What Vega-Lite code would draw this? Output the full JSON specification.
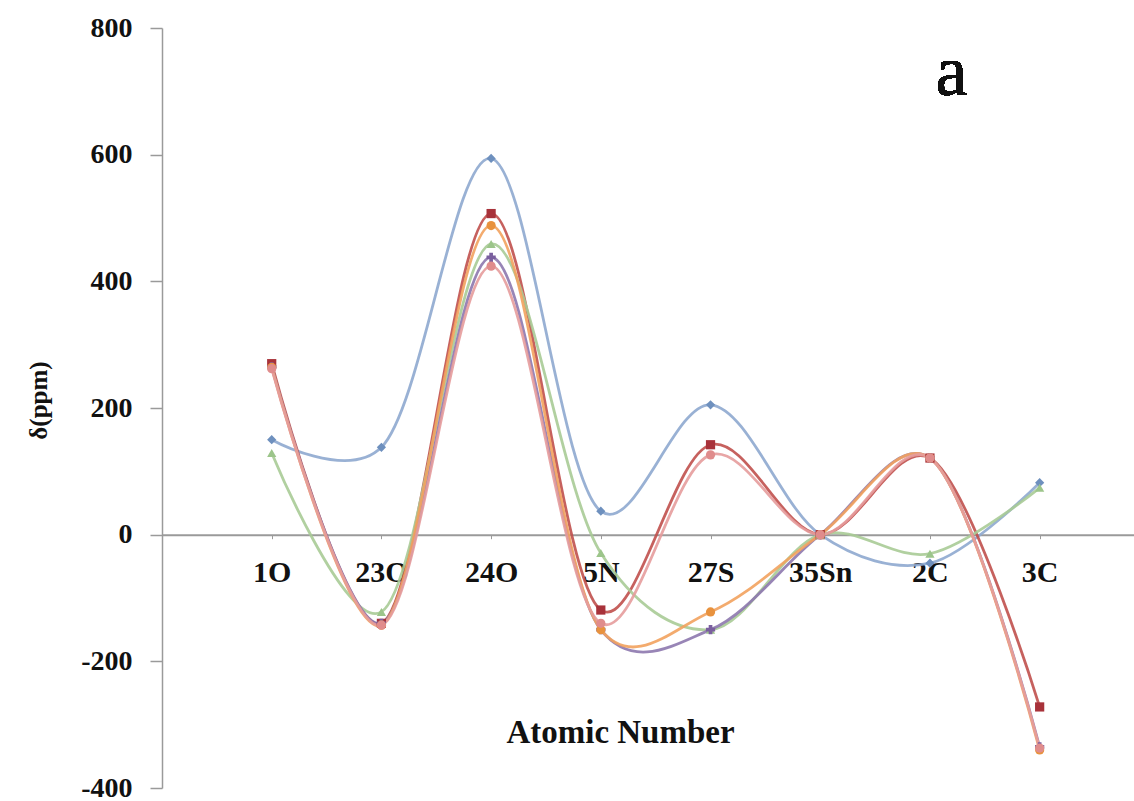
{
  "$schema": "https://vega.github.io/schema/vega-lite/v6.json",
  "width": 972,
  "height": 760,
  "autosize": {"type": "none"},
  "padding": {"left": 162, "top": 28, "right": 0, "bottom": 13},
  "background": "white",
  "config": {"view": {"stroke": null}, "font": "Liberation Serif"},
  "data": {
    "values": [
      {"s": "A", "i": 1, "atom": "1O", "v": 150},
      {"s": "A", "i": 2, "atom": "23O", "v": 138},
      {"s": "A", "i": 3, "atom": "24O", "v": 594},
      {"s": "A", "i": 4, "atom": "5N", "v": 37},
      {"s": "A", "i": 5, "atom": "27S", "v": 205},
      {"s": "A", "i": 6, "atom": "35Sn", "v": 0},
      {"s": "A", "i": 7, "atom": "2C", "v": -45},
      {"s": "A", "i": 8, "atom": "3C", "v": 82},
      {"s": "B", "i": 1, "atom": "1O", "v": 270},
      {"s": "B", "i": 2, "atom": "23O", "v": -140},
      {"s": "B", "i": 3, "atom": "24O", "v": 507},
      {"s": "B", "i": 4, "atom": "5N", "v": -119},
      {"s": "B", "i": 5, "atom": "27S", "v": 142},
      {"s": "B", "i": 6, "atom": "35Sn", "v": 0},
      {"s": "B", "i": 7, "atom": "2C", "v": 121},
      {"s": "B", "i": 8, "atom": "3C", "v": -272},
      {"s": "C", "i": 1, "atom": "1O", "v": 129},
      {"s": "C", "i": 2, "atom": "23O", "v": -122},
      {"s": "C", "i": 3, "atom": "24O", "v": 459},
      {"s": "C", "i": 4, "atom": "5N", "v": -29},
      {"s": "C", "i": 5, "atom": "27S", "v": -150},
      {"s": "C", "i": 6, "atom": "35Sn", "v": 0},
      {"s": "C", "i": 7, "atom": "2C", "v": -30},
      {"s": "C", "i": 8, "atom": "3C", "v": 74},
      {"s": "D", "i": 1, "atom": "1O", "v": 265},
      {"s": "D", "i": 2, "atom": "23O", "v": -140},
      {"s": "D", "i": 3, "atom": "24O", "v": 438},
      {"s": "D", "i": 4, "atom": "5N", "v": -150},
      {"s": "D", "i": 5, "atom": "27S", "v": -150},
      {"s": "D", "i": 6, "atom": "35Sn", "v": 0},
      {"s": "D", "i": 7, "atom": "2C", "v": 121},
      {"s": "D", "i": 8, "atom": "3C", "v": -335},
      {"s": "E", "i": 1, "atom": "1O", "v": 264},
      {"s": "E", "i": 2, "atom": "23O", "v": -143},
      {"s": "E", "i": 3, "atom": "24O", "v": 488},
      {"s": "E", "i": 4, "atom": "5N", "v": -150},
      {"s": "E", "i": 5, "atom": "27S", "v": -122},
      {"s": "E", "i": 6, "atom": "35Sn", "v": 0},
      {"s": "E", "i": 7, "atom": "2C", "v": 121},
      {"s": "E", "i": 8, "atom": "3C", "v": -340},
      {"s": "F", "i": 1, "atom": "1O", "v": 262},
      {"s": "F", "i": 2, "atom": "23O", "v": -143},
      {"s": "F", "i": 3, "atom": "24O", "v": 424},
      {"s": "F", "i": 4, "atom": "5N", "v": -140},
      {"s": "F", "i": 5, "atom": "27S", "v": 126},
      {"s": "F", "i": 6, "atom": "35Sn", "v": 0},
      {"s": "F", "i": 7, "atom": "2C", "v": 121},
      {"s": "F", "i": 8, "atom": "3C", "v": -337}
    ]
  },
  "encoding": {
    "x": {
      "field": "i",
      "type": "quantitative",
      "scale": {"domain": [0, 8.86], "nice": false, "zero": false},
      "axis": {
        "values": [1, 2, 3, 4, 5, 6, 7, 8],
        "labelExpr": "['', '1O', '23O', '24O', '5N', '27S', '35Sn', '2C', '3C'][datum.value]",
        "offset": -253.3,
        "grid": false,
        "domainColor": "#9a9a9a",
        "domainWidth": 2,
        "tickColor": "#9a9a9a",
        "tickSize": 4,
        "tickWidth": 1,
        "labelFont": "Liberation Serif",
        "labelFontSize": 30,
        "labelFontWeight": "bold",
        "labelColor": "#111111",
        "labelPadding": 19,
        "labelFlush": false,
        "labelOverlap": false,
        "labelBound": false,
        "title": "Atomic Number",
        "titleFont": "Liberation Serif",
        "titleFontSize": 33,
        "titleFontWeight": "bold",
        "titleColor": "#111111",
        "titleX": 458,
        "titleY": 208,
        "titleAlign": "center",
        "titleBaseline": "alphabetic"
      }
    },
    "y": {
      "field": "v",
      "type": "quantitative",
      "scale": {"domain": [-400, 800], "nice": false},
      "axis": {
        "values": [-400, -200, 0, 200, 400, 600, 800],
        "labelExpr": "'' + datum.value",
        "grid": false,
        "domainColor": "#9a9a9a",
        "domainWidth": 1.5,
        "tickColor": "#9a9a9a",
        "tickSize": 12,
        "tickWidth": 1.5,
        "labelFont": "Liberation Serif",
        "labelFontSize": 28,
        "labelFontWeight": "bold",
        "labelColor": "#111111",
        "labelPadding": 18,
        "labelOverlap": false,
        "labelBound": false,
        "title": "δ(ppm)",
        "titleFont": "Liberation Serif",
        "titleFontSize": 25,
        "titleFontWeight": "bold",
        "titleColor": "#111111",
        "titleAngle": -90,
        "titleX": -116,
        "titleY": 372,
        "titleAlign": "center",
        "titleBaseline": "alphabetic"
      }
    }
  },
  "layer": [
    {
      "mark": {"type": "line", "interpolate": "catmull-rom", "tension": 0.2, "strokeWidth": 2.8, "opacity": 0.9},
      "encoding": {
        "stroke": {
          "field": "s",
          "type": "nominal",
          "scale": {"domain": ["A", "B", "C", "D", "E", "F"], "range": ["#8EA9CF", "#C0504D", "#A8CB96", "#8D78AE", "#F2A25E", "#E59C9C"]},
          "legend": null
        }
      }
    },
    {
      "mark": {"type": "point", "filled": true, "size": 85, "opacity": 1},
      "encoding": {
        "fill": {
          "field": "s",
          "type": "nominal",
          "scale": {"domain": ["A", "B", "C", "D", "E", "F"], "range": ["#6E90BE", "#A8323A", "#9CC58A", "#7A5F9E", "#E8923E", "#E08C8C"]},
          "legend": null
        },
        "shape": {
          "field": "s",
          "type": "nominal",
          "scale": {"domain": ["A", "B", "C", "D", "E", "F"], "range": ["diamond", "square", "triangle-up", "cross", "circle", "circle"]},
          "legend": null
        }
      }
    },
    {
      "mark": {"type": "text", "font": "Liberation Serif", "fontSize": 72, "align": "left", "baseline": "alphabetic", "color": "#111111"},
      "encoding": {
        "x": {"datum": 7.05},
        "y": {"datum": 694},
        "text": {"value": "a"}
      }
    }
  ]
}
